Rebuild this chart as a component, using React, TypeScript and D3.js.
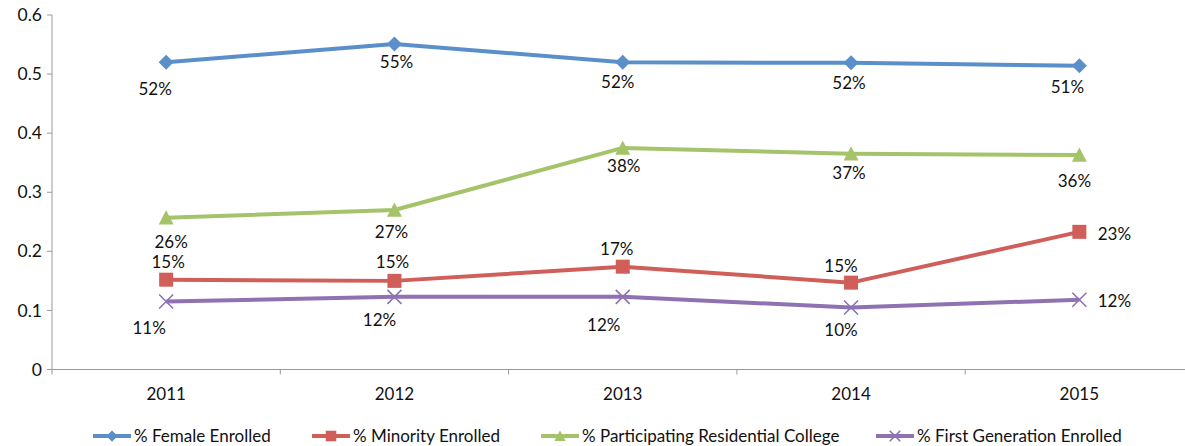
import React from "react";
import * as d3 from "d3";

const years = ["2011", "2012", "2013", "2014", "2015"];
const yTicks = [0, 0.1, 0.2, 0.3, 0.4, 0.5, 0.6];

const female = [0.52, 0.551, 0.52, 0.519, 0.514];
const minority = [0.152, 0.15, 0.174, 0.147, 0.233];
const residential = [0.257, 0.27, 0.375, 0.365, 0.363];
const firstGen = [0.115, 0.123, 0.123, 0.105, 0.118];

const femaleLabels = ["52%", "55%", "52%", "52%", "51%"];
const minorityLabels = ["15%", "15%", "17%", "15%", "23%"];
const residentialLabels = ["26%", "27%", "38%", "37%", "36%"];
const firstGenLabels = ["11%", "12%", "12%", "10%", "12%"];

// label offsets (dx, dy from point to label centre)
const femaleOffsets = [[-11, 27], [2, 18], [-5, 20], [-2, 20], [-12, 21]];
const minorityOffsets = [[2, -18], [-2, -19], [-6, -18], [-10, -17], [35, 2]];
const residentialOffsets = [[5, 24], [-3, 22], [1, 18], [-2, 19], [-5, 26]];
const firstGenOffsets = [[-17, 26], [-15, 23], [-19, 28], [-10, 23], [35, 1]];

const W = 1185;
const H = 446;
const left = 52;
const y0 = 369.5;
const y1 = 15;

const series = [
  { name: "% Female Enrolled", values: female, labels: femaleLabels, offsets: femaleOffsets, color: "#5A8FCA", marker: "diamond" },
  { name: "% Minority Enrolled", values: minority, labels: minorityLabels, offsets: minorityOffsets, color: "#CF5F58", marker: "square" },
  { name: "% Participating Residential College", values: residential, labels: residentialLabels, offsets: residentialOffsets, color: "#A5C46A", marker: "triangle" },
  { name: "% First Generation Enrolled", values: firstGen, labels: firstGenLabels, offsets: firstGenOffsets, color: "#8E72B2", marker: "x" },
];

const legendX = [93, 312, 541, 876];

function Marker({ type, x, y, color, s = 1 }: { type: string; x: number; y: number; color: string; s?: number }) {
  if (type === "diamond") {
    const r = 7.5 * s;
    return <path d={`M${x},${y - r}L${x + r},${y}L${x},${y + r}L${x - r},${y}Z`} fill={color} />;
  }
  if (type === "square") {
    const r = 7 * s;
    return <rect x={x - r} y={y - r} width={2 * r} height={2 * r} fill={color} />;
  }
  if (type === "triangle") {
    const r = 7.5 * s;
    return <path d={`M${x},${y - r}L${x + r},${y + r * 0.9}L${x - r},${y + r * 0.9}Z`} fill={color} />;
  }
  const r = 7 * s;
  return (
    <path d={`M${x - r},${y - r}L${x + r},${y + r}M${x - r},${y + r}L${x + r},${y - r}`} stroke={color} strokeWidth={1.6} fill="none" />
  );
}

export default function App() {
  const x = d3.scaleBand<string>().domain(years).range([left, left + 5 * 228.3]);
  const y = d3.scaleLinear().domain([0, 0.6]).range([y0, y1]);
  const cx = (yr: string) => (x(yr) as number) + x.bandwidth() / 2;
  const line = d3
    .line<number>()
    .x((_, i) => cx(years[i]))
    .y((v) => y(v));
  const font = "Lato, 'Open Sans', sans-serif";
  const boundaries = years.map((yr) => x(yr) as number).concat([(x(years[4]) as number) + x.bandwidth()]);

  return (
    <svg width={W} height={H} style={{ position: "absolute", left: 0, top: 0, background: "#fff" }} fontFamily={font}>
      {/* y axis */}
      <line x1={left} x2={left} y1={y1} y2={y0} stroke="#999" strokeWidth={1} />
      {yTicks.map((t) => (
        <g key={t}>
          <line x1={left - 5} x2={left} y1={y(t)} y2={y(t)} stroke="#999" />
          <text x={42} y={y(t)} dy="0.35em" textAnchor="end" fontSize={17.5} fill="#111">
            {t === 0 ? "0" : d3.format(".1f")(t)}
          </text>
        </g>
      ))}
      {/* x axis */}
      <line x1={left} x2={W} y1={y0} y2={y0} stroke="#999" strokeWidth={1} />
      {boundaries.map((b, i) => (
        <line key={i} x1={b} x2={b} y1={y0} y2={y0 + 5} stroke="#999" />
      ))}
      {years.map((yr) => (
        <text key={yr} x={cx(yr)} y={394} dy="0.35em" textAnchor="middle" fontSize={17} fill="#111">
          {yr}
        </text>
      ))}
      {/* series */}
      {series.map((s) => (
        <g key={s.name}>
          <path d={line(s.values) as string} fill="none" stroke={s.color} strokeWidth={4} strokeLinejoin="round" />
          {s.values.map((v, i) => (
            <Marker key={i} type={s.marker} x={cx(years[i])} y={y(v)} color={s.color} />
          ))}
          {s.values.map((v, i) => (
            <text
              key={"l" + i}
              x={cx(years[i]) + s.offsets[i][0]}
              y={y(v) + s.offsets[i][1]}
              dy="0.35em"
              textAnchor="middle"
              fontSize={17}
              fill="#111"
            >
              {s.labels[i]}
            </text>
          ))}
        </g>
      ))}
      {/* legend */}
      {series.map((s, i) => (
        <g key={"lg" + i}>
          <line x1={legendX[i]} x2={legendX[i] + 38} y1={436} y2={436} stroke={s.color} strokeWidth={4} />
          <Marker type={s.marker} x={legendX[i] + 19} y={436} color={s.color} s={0.75} />
          <text x={legendX[i] + 41} y={436} dy="0.35em" fontSize={17} fill="#111">
            {s.name}
          </text>
        </g>
      ))}
    </svg>
  );
}
